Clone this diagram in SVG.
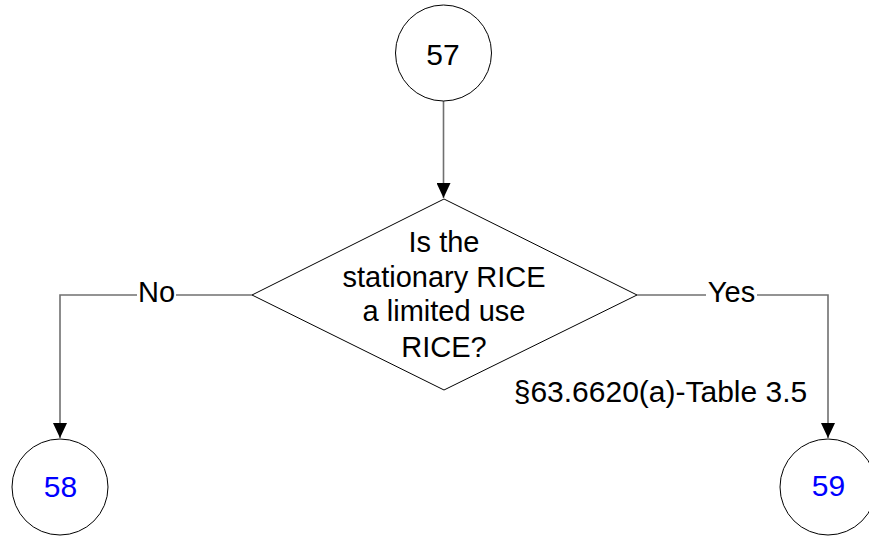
<svg xmlns="http://www.w3.org/2000/svg" width="869" height="536" viewBox="0 0 869 536">
  <style>
    .shape { fill: #ffffff; stroke: #000000; stroke-width: 1; }
    .conn { fill: none; stroke: #707070; stroke-width: 1.6; }
    .t { font-family: "Liberation Sans", Arial, sans-serif; font-size: 29px; fill: #000000; text-anchor: middle; }
    .big { font-size: 30px; }
    .link { fill: #0000ff; }
    .lbl { font-family: "Liberation Sans", Arial, sans-serif; font-size: 29px; fill: #000000; text-anchor: middle; }
    .lblbg { fill: #ffffff; stroke: none; }
  </style>
  <defs>
    <marker id="arrow" viewBox="0 0 15 14" refX="15" refY="7" markerWidth="15" markerHeight="14" markerUnits="userSpaceOnUse" orient="auto">
      <path d="M0,0 L15,7 L0,14 Z" fill="#000000"/>
    </marker>
  </defs>

  <g id="connectors">
    <path class="conn" d="M443.5,101 L443.5,198" marker-end="url(#arrow)"/>
    <path class="conn" d="M252,295 L60,295 L60,438" marker-end="url(#arrow)"/>
    <path class="conn" d="M637,295 L828,295 L828,438" marker-end="url(#arrow)"/>
    <g id="label-no">
      <rect class="lblbg" x="137" y="283" width="39" height="24"/>
      <text class="lbl" x="156.5" y="302">No</text>
    </g>
    <g id="label-yes">
      <rect class="lblbg" x="706" y="283" width="51" height="24"/>
      <text class="lbl" x="731.5" y="302">Yes</text>
    </g>
  </g>

  <g id="node-57">
    <circle class="shape" cx="443.5" cy="53" r="48"/>
    <text class="t big" x="443" y="65">57</text>
  </g>

  <g id="node-decision">
    <polygon class="shape" points="444,199 637,295 444,390 252,295"/>
    <text class="t" x="444" y="252">Is the</text>
    <text class="t" x="444" y="287">stationary RICE</text>
    <text class="t" x="444" y="321">a limited use</text>
    <text class="t" x="444" y="357">RICE?</text>
  </g>

  <g id="note-ref">
    <text class="t big" x="660.5" y="402">§63.6620(a)-Table 3.5</text>
  </g>

  <g id="node-58">
    <circle class="shape" cx="60" cy="487" r="48"/>
    <text class="t big link" x="60.5" y="497">58</text>
  </g>

  <g id="node-59">
    <circle class="shape" cx="828" cy="487" r="48"/>
    <text class="t big link" x="828.5" y="496">59</text>
  </g>
</svg>
